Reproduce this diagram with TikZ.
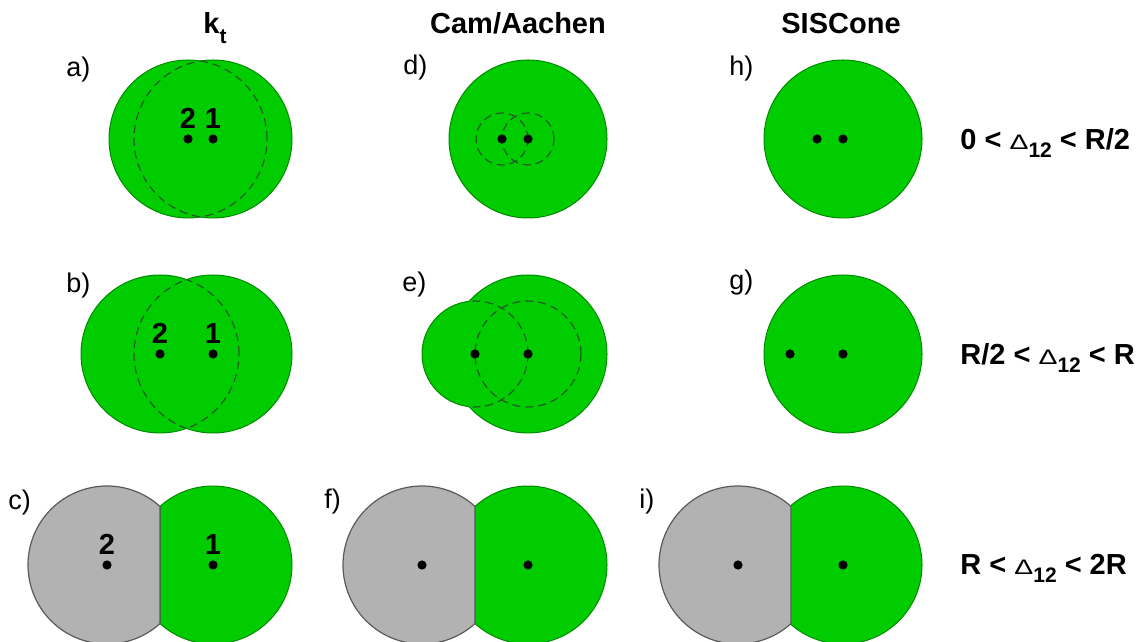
\documentclass[tikz,border=0pt]{standalone}
\usepackage{fontspec}
\setmainfont{Liberation Sans}
\usepackage{tikz}
\definecolor{jetgreen}{RGB}{0, 204, 0}
\definecolor{jetedge}{RGB}{0, 140, 0}
\definecolor{lostgray}{RGB}{178, 178, 178}
\definecolor{lostedge}{RGB}{90, 90, 90}
\definecolor{coneline}{RGB}{35, 90, 35}

% union of two discs, outline only where it is the outer edge
\newcommand{\unionjet}[4]{%
  \fill[jet] (#1) circle (#2) (#3) circle (#4);
  \begin{scope}[even odd rule]
    \clip (-100,-100) rectangle (1300,800) (#3) circle (#4);
    \draw[jetrim] (#1) circle (#2);
  \end{scope}
  \begin{scope}[even odd rule]
    \clip (-100,-100) rectangle (1300,800) (#1) circle (#2);
    \draw[jetrim] (#3) circle (#4);
  \end{scope}}
% dashed part of circle #1 (radius #2) lying inside circle #3 (radius #4)
\newcommand{\innerarc}[4]{%
  \begin{scope}
    \clip (#3) circle (#4);
    \draw[cone] (#1) circle (#2);
  \end{scope}}
% hard split of two discs: #1 kept jet, #2 lost jet
\newcommand{\splitjet}[2]{%
  \filldraw[jet,jetrim] ([shift={(-132.13:79)}]#1) arc[start angle=-132.13, end angle=132.13, radius=79] -- cycle;
  \filldraw[lost] ([shift={(47.87:79)}]#2) arc[start angle=47.87, end angle=312.13, radius=79] -- cycle;}

\begin{document}
\begin{tikzpicture}[x=0.5pt,y=0.5pt,
  jet/.style={fill=jetgreen},
  jetrim/.style={draw=jetedge, line width=0.5pt},
  lost/.style={fill=lostgray, draw=lostedge, line width=0.6pt},
  cone/.style={draw=coneline, line width=0.6pt, dash pattern=on 4pt off 2.5pt},
  head/.style={font=\fontsize{14.5}{17}\selectfont\bfseries, anchor=base, inner sep=0pt},
  panel/.style={font=\fontsize{13.5}{16}\selectfont, anchor=base west, inner sep=0pt},
  num/.style={font=\fontsize{14.5}{17}\selectfont\bfseries, anchor=base, inner sep=0pt},
  rangelabel/.style={font=\fontsize{14.5}{17}\selectfont\bfseries, anchor=base west, inner sep=0pt}]
\useasboundingbox (0,0) rectangle (1143,641);

% particle positions
\coordinate (a1) at (213,502); \coordinate (a2) at (188,502);
\coordinate (b1) at (213,287); \coordinate (b2) at (160,287);
\coordinate (c1) at (213,76);  \coordinate (c2) at (107,76);
\coordinate (d1) at (528,502); \coordinate (d2) at (502,502);
\coordinate (e1) at (528,287); \coordinate (e2) at (475,287);
\coordinate (f1) at (528,76);  \coordinate (f2) at (422,76);
\coordinate (h1) at (843,502); \coordinate (h2) at (817,502);
\coordinate (g1) at (843,287); \coordinate (g2) at (790,287);
\coordinate (i1) at (843,76);  \coordinate (i2) at (738,76);

% k_t
\unionjet{a1}{79}{a2}{79}
\innerarc{a1}{79}{a2}{79} \innerarc{a2}{79}{a1}{79}
\unionjet{b1}{79}{b2}{79}
\innerarc{b1}{79}{b2}{79} \innerarc{b2}{79}{b1}{79}
\splitjet{c1}{c2}

% Cam/Aachen
\filldraw[jet,jetrim] (d1) circle (79);
\draw[cone] (d1) circle (26) (d2) circle (26);
\unionjet{e1}{79}{e2}{53}
\innerarc{e2}{53}{e1}{79}
\draw[cone] (e1) circle (53);
\splitjet{f1}{f2}

% SISCone
\filldraw[jet,jetrim] (h1) circle (79);
\filldraw[jet,jetrim] (g1) circle (79);
\splitjet{i1}{i2}

\foreach \p in {a1,a2,b1,b2,c1,c2,d1,d2,e1,e2,f1,f2,h1,h2,g1,g2,i1,i2}
  \fill (\p) circle (4.6);

% particle numbers
\foreach \p/\t in {a1/1,a2/2,b1/1,b2/2,c1/1,c2/2}
  \node[num] (n-\p) at ([yshift=5pt]\p) {\t};

% column heads
\node[head, anchor=base west] (hkt) at (203,607) {k\raisebox{-5pt}{\fontsize{10.5}{12}\selectfont t}};
\node[head] (hcam) at (518,607) {Cam/Aachen};
\node[head] (hsis) at (841,607) {SISCone};

% panel letters
\node[panel] (pa) at (66,564) {a)};
\node[panel] (pb) at (66,348) {b)};
\node[panel] (pc) at (8,131) {c)};
\node[panel] (pd) at (403,566) {d)};
\node[panel] (pe) at (402,349) {e)};
\node[panel] (pf) at (324,132) {f)};
\node[panel] (ph) at (729,565) {h)};
\node[panel] (pg) at (729,351) {g)};
\node[panel] (pi) at (639,132) {i)};

% separation ranges
\newcommand{\dtwelve}{{\fontsize{10.5}{12}\selectfont\mdseries\scalebox{1.35}[1]{Δ}}\raisebox{-4pt}{\fontsize{10.5}{12}\selectfont 12}}
\node[rangelabel] (r1) at (960,491) {0 < \dtwelve{} < R/2};
\node[rangelabel] (r2) at (960,276) {R/2 < \dtwelve{} < R};
\node[rangelabel] (r3) at (960,66) {R < \dtwelve{} < 2R};
\end{tikzpicture}
\end{document}
